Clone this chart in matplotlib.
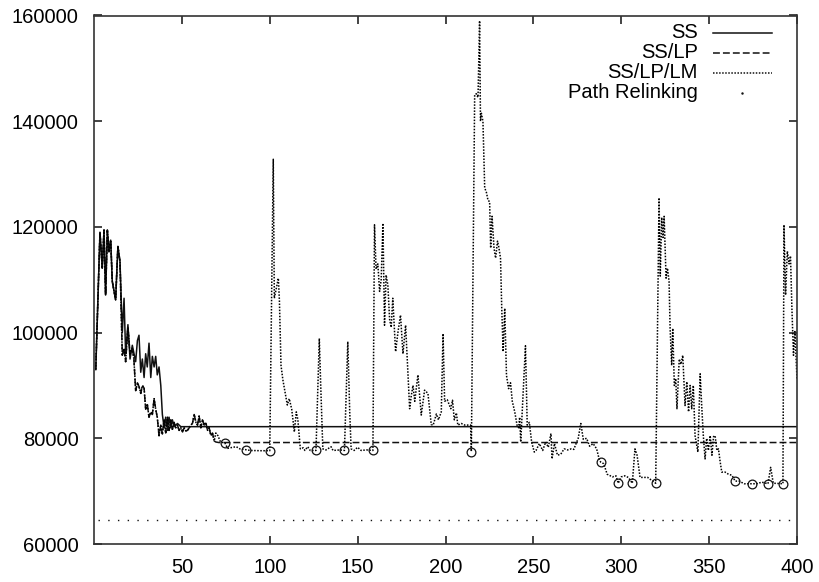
import matplotlib
matplotlib.use("Agg")
import matplotlib.pyplot as plt
from matplotlib.lines import Line2D

plt.rcParams['font.family'] = ['Liberation Sans', 'DejaVu Sans']

# ---------------- data ----------------
common_x = [1, 3.4, 4.7, 5.7, 6.6, 7.6, 8.5, 9.5, 10.4, 12.3, 13.6, 14.8]
common_y = [93000, 119000, 112200, 119400, 107100, 119400, 115300, 117500,
            109700, 106200, 116300, 113400]

ss_x = common_x + [16.1, 17.1, 18, 19.3, 20.5, 21.8, 23.7, 24.7, 25.6, 26.6, 27.5,
                   28.5, 29.4, 30.3, 31.3, 32.3, 33.2, 34.2, 35.1, 36, 37, 38, 38.9,
                   39.9, 40.8, 41.8, 42.7, 43.7, 44.6, 45.6, 47.5, 49.4, 400]
ss_y = common_y + [100000, 106500, 96000, 101500, 95000, 97600, 94500, 98500, 99500,
                   92500, 95000, 91500, 96000, 93500, 98000, 91500, 95500, 93500,
                   95500, 92000, 93500, 90000, 84500, 82000, 84000, 81500, 84000,
                   82000, 83500, 82200, 82800, 82200, 82200]

lp_mid_x = [16.1, 17.1, 18, 19.3, 20.5, 21.8, 22.7, 23.7, 24.7, 25.6, 26.6, 27.5,
            28.5, 29.4, 30.3, 31.3, 32.3, 33.2, 34.2, 35.1, 36, 37, 38, 38.9, 39.9,
            40.8, 41.8, 42.7, 43.7, 44.6, 45.6, 46.5, 47.5, 48.4, 49.4, 50.4, 51.3,
            52.3, 53.2, 54.2, 55, 56, 57, 58, 58.9, 59.8, 60.8, 61.7, 62.7, 63.6,
            64.6, 65.5, 66.5, 67.4, 68.4]
lp_mid_y = [95700, 97000, 94500, 101000, 96000, 97000, 95000, 89000, 90500, 89800,
            88500, 90000, 89500, 85500, 86500, 84000, 85000, 84500, 87500, 85500,
            84000, 80500, 82500, 80800, 83500, 81000, 84000, 81500, 83500, 81700,
            83000, 82000, 82500, 81500, 82000, 81200, 82000, 81400, 81500, 82000,
            82500, 82800, 84500, 83000, 82500, 84200, 82000, 83500, 82500, 83000,
            81500, 82000, 80500, 81000, 79500]

sslp_x = common_x + lp_mid_x + [69.3, 71, 400]
sslp_y = common_y + lp_mid_y + [79300, 79200, 79200]

lm_x = common_x + lp_mid_x + [
    69.3, 70.5, 72, 74.5, 76, 79, 81, 83, 86.5, 89, 95, 100,
    102, 102.6, 103.5, 104.9, 105.5, 106.4, 107.5, 108.7, 110, 111.1, 112.5, 114,
    115.1, 116, 117.4, 119, 120, 121.6, 123, 126.3, 128.2, 129, 130.2, 132, 134.9,
    136, 140, 142.5, 144.4, 145.5, 146.3, 148, 150, 152, 155, 158.7, 159.6, 160.5,
    161.5, 162.5, 163.4, 164.4, 165.3, 166.2, 167.2, 168.2, 169.1, 170, 171.6, 173,
    174.4, 175.8, 177.3, 179.6, 180.5, 181.5, 182.5, 184.3, 186.2, 188.1, 190,
    191.9, 193, 194.8, 196, 197.6, 198.6, 199.5, 201, 203, 204, 205, 206.2, 207,
    209, 211, 214.3, 214.7, 216.6, 217.5, 218.5, 219.4, 219.9, 220.4, 221.3, 222.3,
    223.3, 224.2, 225.1, 225.7, 226.5, 227.6, 228.5, 229.6, 230.3, 231.3, 232,
    232.8, 233.7, 234.7, 235.9, 237, 238, 239.4, 240.7, 241.6, 242.2, 242.8, 245.5,
    246.5, 247.7, 249, 250.5, 251.5, 253.4, 255.3, 257, 258.5, 260, 260.6, 262,
    263.7, 265.6, 267.5, 269.5, 271.5, 273, 275.5, 277, 278.4, 280.3, 282, 284, 286,
    287.4, 288.3, 290, 292, 295, 297, 298.3, 300, 302, 304, 306.3, 307.8, 309,
    310.7, 315, 319.6, 321.5, 322.2, 323, 323.8, 324.4, 325.5, 326.3, 327.2, 327.8,
    328.7, 329.3, 330.2, 331, 331.7, 333, 334, 335, 336.3, 337.3, 338.3, 339.2,
    340.1, 341, 342, 343.6, 344.9, 345.8, 346.7, 347.7, 348.6, 349.6, 350.6, 351.6,
    352.5, 353.4, 354.4, 355.3, 356.3, 357.2, 359.1, 361, 363, 364.8, 367, 370,
    374.3, 377, 380, 383.5, 385, 386.5, 392, 392.6, 393.5, 394.5, 395.5, 396.3,
    397.1, 398, 398.8, 400]
lm_y = common_y + lp_mid_y + [
    81000, 80500, 79300, 79100, 78100, 78300, 78400, 78000, 77840, 77700, 77650,
    77650, 132800, 106500, 108000, 110300, 106000, 93800, 91000, 88800, 86300,
    87500, 85500, 81200, 85000, 83500, 78000, 78200, 77700, 78400, 77700, 77700,
    98900, 90000, 78000, 77800, 78400, 77700, 77800, 77700, 98300, 85000, 78000,
    77700, 78300, 77700, 77800, 77700, 120400, 112000, 113000, 107800, 110000,
    120700, 101400, 110900, 109000, 102500, 101000, 106500, 96400, 100200, 103300,
    96000, 101400, 85600, 88000, 90000, 87000, 92000, 84400, 89100, 88500, 82600,
    82500, 84600, 83500, 85000, 99800, 87000, 87300, 85600, 87200, 83500, 84800,
    82500, 82800, 82500, 82500, 77500, 145000, 145200, 144500, 159000, 140000,
    141500, 140000, 127400, 126500, 125000, 124800, 116000, 122000, 116000, 114100,
    117300, 116200, 114100, 104600, 96400, 104600, 91900, 89400, 90500, 87000,
    85000, 82500, 82000, 84000, 79300, 97500, 82500, 83000, 79300, 77400, 77700,
    79000, 77700, 79300, 78300, 80900, 76100, 79000, 76800, 77000, 78000, 77800,
    78000, 77900, 80000, 82800, 79800, 80000, 78500, 79000, 78000, 76100, 75500,
    75200, 73200, 72700, 72900, 71500, 72700, 72900, 72600, 71500, 78000, 76800,
    72600, 72600, 71500, 125500, 110700, 121800, 118000, 122000, 110300, 112200,
    109700, 100800, 93800, 100800, 90000, 91300, 85600, 95000, 94000, 95700, 86200,
    90700, 85000, 90000, 85600, 90000, 80500, 77400, 92200, 86000, 80500, 76100,
    80000, 77700, 80500, 76800, 80300, 80500, 77700, 78000, 75500, 73600, 73600,
    73200, 73000, 71900, 71900, 71400, 71400, 71400, 71700, 71400, 74500, 71500,
    71400, 120400, 107100, 115400, 113000, 114500, 104600, 95700, 100200, 91300]

circle_x = [74.5, 86.5, 100, 126.3, 142.5, 158.7, 214.7, 288.3, 298.3, 306.3,
            319.6, 364.8, 374.3, 383.5, 392]
circle_y = [79100, 77840, 77650, 77700, 77700, 77700, 77500, 75500, 71500, 71500,
            71500, 71900, 71400, 71400, 71400]

pr_x = [2, 400]
pr_y = [64600, 64600]

xticks = [50, 100, 150, 200, 250, 300, 350, 400]
yticks = [60000, 80000, 100000, 120000, 140000, 160000]
legend_labels = ["SS", "SS/LP", "SS/LP/LM", "Path Relinking"]

# ---------------- figure ----------------
W, H = 819, 582
fig = plt.figure(figsize=(W / 100, H / 100), dpi=100)
ax = fig.add_axes([94 / W, 1 - 544 / H, (797 - 94) / W, (544 - 15.5) / H])

ink = '#111111'
dot_style = (0, (1.0, 1.0))
ax.plot(ss_x, ss_y, color=ink, lw=1.1, linestyle='-')
ax.plot(sslp_x, sslp_y, color=ink, lw=1.1, linestyle=(0, (4.5, 2)))
ax.plot(lm_x, lm_y, color='black', lw=1.1, linestyle=dot_style)
ax.plot(circle_x, circle_y, linestyle='none', marker='o', markersize=6.3,
        markerfacecolor='none', markeredgecolor=ink, markeredgewidth=0.9)
ax.plot(pr_x, pr_y, color=ink, lw=1.0, linestyle=(0, (1, 6)))

ax.set_xlim(0, 400)
ax.set_ylim(60000, 160000)
ax.set_xticks(xticks)
ax.set_xticklabels([str(t) for t in xticks])
ax.set_yticks(yticks)
ax.set_yticklabels([str(t) for t in yticks])
ax.tick_params(direction='in', length=6, width=1.1, labelsize=14.5,
               top=True, right=True, color=ink, labelcolor='black')
ax.tick_params(axis='x', pad=10)
ax.tick_params(axis='y', pad=11)
for s in ax.spines.values():
    s.set_linewidth(1.2)
    s.set_color('#333333')

# gnuplot-style key: right-aligned text, sample to the right
styles = [dict(ls='-', lw=1.1), dict(ls=(0, (4.5, 2)), lw=1.1),
          dict(ls=dot_style, lw=1.1), None]
ys = [33, 53, 73, 93]
for lab, st, yy in zip(legend_labels, styles, ys):
    fig.text(698 / W, 1 - yy / H, lab, ha='right', va='center', fontsize=14.5)
    if st is not None:
        fig.add_artist(Line2D([713 / W, 772 / W], [1 - yy / H, 1 - yy / H],
                              color=ink, transform=fig.transFigure, **st))
    else:
        fig.add_artist(Line2D([742 / W], [1 - yy / H], marker='.', markersize=1.5,
                              color=ink, transform=fig.transFigure, linestyle='none'))

fig.savefig("out.png", dpi=100)
